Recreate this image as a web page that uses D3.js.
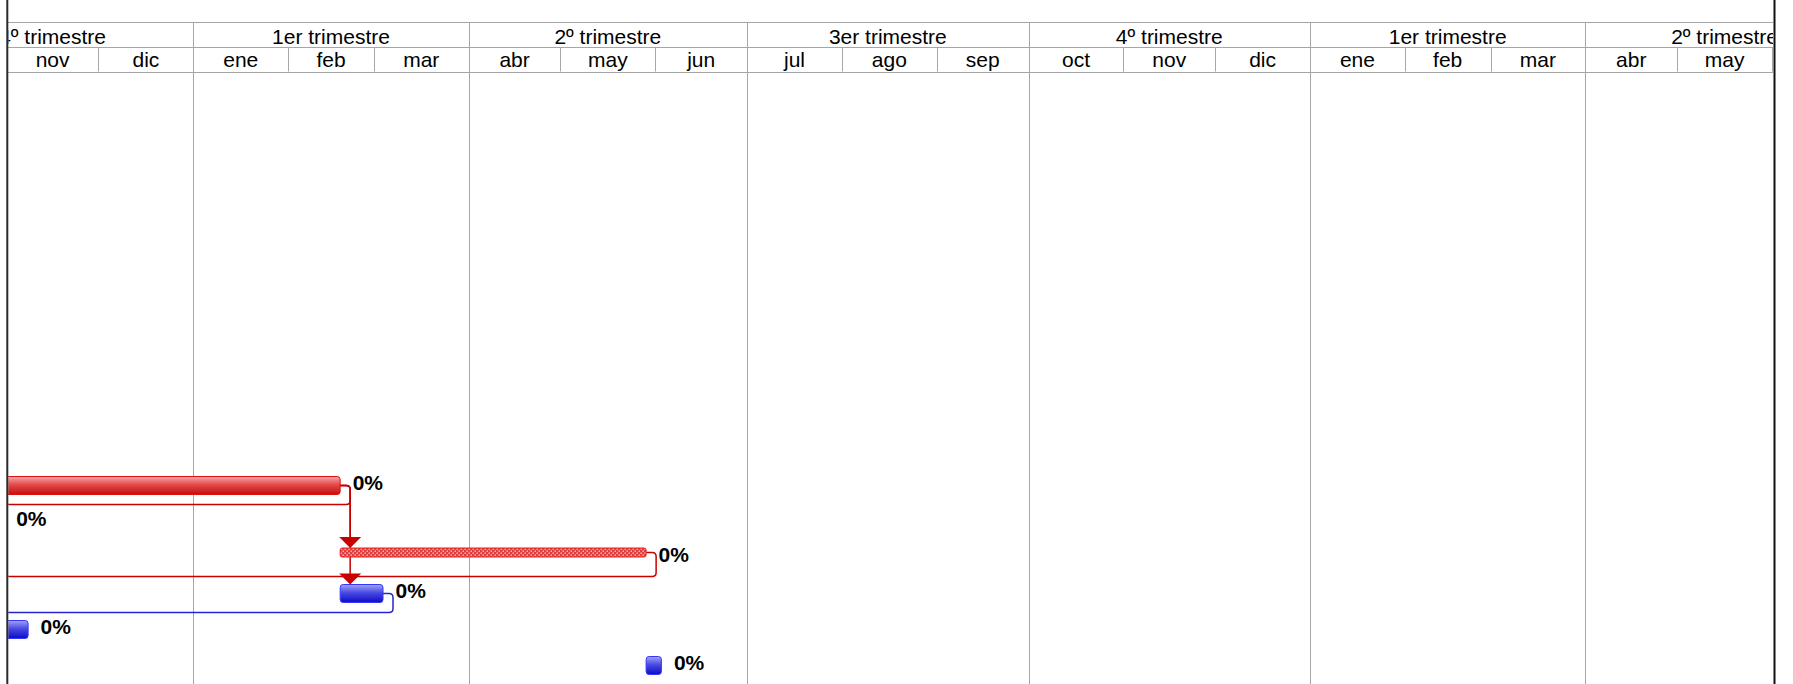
<!DOCTYPE html>
<html>
<head>
<meta charset="utf-8">
<script src="https://cdn.jsdelivr.net/npm/d3@7"></script>
<style>
  html, body { margin: 0; padding: 0; background: #fff; }
  svg { display: block; }
</style>
</head>
<body>
<div id="chart"></div>
<script>
// ---------------- DATA ----------------
const viewStart = "2012-11-01";
const viewEnd   = "2014-06-01";
const monthLabels   = ["ene","feb","mar","abr","may","jun","jul","ago","sep","oct","nov","dic"];
const quarterLabels = ["1er trimestre","2º trimestre","3er trimestre","4º trimestre"];

// tasks (only those reaching the visible window)
const taskRows   = [11, 12, 13, 14, 15, 16];
const taskStarts = ["2012-08-01","2012-09-15","2013-02-18","2013-02-18","2012-10-01","2013-05-29"];
const taskEnds   = ["2013-02-18","2012-10-31","2013-05-29","2013-03-04","2012-11-08","2013-06-03"];
const taskTypes  = ["critical","critical","criticalSplit","normal","normal","normal"];
const taskPct    = ["0%","0%","0%","0%","0%","0%"];

// finish-to-start links (by row)
const linkFrom = [11, 11, 11, 13, 14];
const linkTo   = [12, 13, 14, 15, 15];

// ---------------- LAYOUT ----------------
const W = 1793, H = 684;
const headerTop = 22, headerMid = 47, headerBottom = 71.5;
const rowH = 36;
const leftEdge = 7.3, rightEdge = 1773;

const parse = d3.timeParse("%Y-%m-%d");
const x = d3.scaleTime().domain([parse(viewStart), parse(viewEnd)]).range([6.7, 1772]);
const rowCenter = r => headerBottom + r * rowH + rowH / 2;

const tasks = taskRows.map((r, i) => ({
  row: r, start: parse(taskStarts[i]), end: parse(taskEnds[i]), type: taskTypes[i], pct: taskPct[i]
}));
const byRow = new Map(tasks.map(t => [t.row, t]));

const svg = d3.select("#chart").append("svg").attr("width", W).attr("height", H);
const defs = svg.append("defs");

function grad(id, stops) {
  const g = defs.append("linearGradient").attr("id", id)
    .attr("x1", 0).attr("y1", 0).attr("x2", 0).attr("y2", 1);
  stops.forEach(([o, c]) => g.append("stop").attr("offset", o).attr("stop-color", c));
}
grad("gRed",  [[0, "#f6a9a9"], [0.45, "#e44a4a"], [1, "#c20e0e"]]);
grad("gBlue", [[0, "#a4a4f4"], [0.45, "#4a4ae6"], [1, "#0c0cc4"]]);

const pat = defs.append("pattern").attr("id", "hatch").attr("patternUnits", "userSpaceOnUse")
  .attr("width", 4).attr("height", 4);
pat.append("rect").attr("width", 4).attr("height", 4).attr("fill", "#e23c3c");
pat.append("rect").attr("x", 0.5).attr("y", 0.5).attr("width", 1.3).attr("height", 1.3).attr("fill", "#fbe0e0");
pat.append("rect").attr("x", 2.5).attr("y", 2.5).attr("width", 1.3).attr("height", 1.3).attr("fill", "#fbe0e0");

defs.append("clipPath").attr("id", "clipBody").append("rect")
  .attr("x", leftEdge + 1).attr("y", 0).attr("width", rightEdge - leftEdge - 1).attr("height", H);

// ---------------- HEADER ----------------
const hdr = svg.append("g").attr("clip-path", "url(#clipBody)");
const gridColor = "#a6a6a6";

const quarters = d3.timeMonth.every(3).range(d3.timeMonth.offset(parse(viewStart), -3), parse(viewEnd));
const months = d3.timeMonth.range(parse(viewStart), parse(viewEnd));

// quarter labels
hdr.selectAll("text.q").data(quarters).join("text")
  .attr("class", "q")
  .attr("x", d => (x(d) + x(d3.timeMonth.offset(d, 3))) / 2)
  .attr("y", 43.5)
  .attr("text-anchor", "middle")
  .attr("font-family", "Liberation Sans, Arial, sans-serif")
  .attr("font-size", 21)
  .attr("fill", "#000")
  .text(d => quarterLabels[Math.floor(d.getMonth() / 3)]);

// month labels
hdr.selectAll("text.m").data(months).join("text")
  .attr("class", "m")
  .attr("x", d => (x(d) + x(d3.timeMonth.offset(d, 1))) / 2)
  .attr("y", 67)
  .attr("text-anchor", "middle")
  .attr("font-family", "Liberation Sans, Arial, sans-serif")
  .attr("font-size", 21)
  .attr("fill", "#000")
  .text(d => monthLabels[d.getMonth()]);

// month separators (month row)
const monthTicks = d3.timeMonth.range(parse(viewStart), d3.timeDay.offset(parse(viewEnd), 1));
hdr.selectAll("line.ms").data(monthTicks.filter(d => d.getMonth() % 3 !== 0)).join("line")
  .attr("x1", d => Math.round(x(d)) + 0.5).attr("x2", d => Math.round(x(d)) + 0.5)
  .attr("y1", headerMid).attr("y2", headerBottom)
  .attr("stroke", gridColor).attr("stroke-width", 1);

// quarter separators (full height)
hdr.selectAll("line.qs").data(monthTicks.filter(d => d.getMonth() % 3 === 0)).join("line")
  .attr("x1", d => Math.round(x(d)) + 0.5).attr("x2", d => Math.round(x(d)) + 0.5)
  .attr("y1", d => x(d) > 1770 ? headerMid : headerTop).attr("y2", d => x(d) > 1770 ? headerBottom : H)
  .attr("stroke", gridColor).attr("stroke-width", 1);

// horizontal header lines
[headerTop, headerMid, headerBottom].forEach(y => {
  svg.append("line").attr("x1", leftEdge).attr("x2", rightEdge)
    .attr("y1", Math.round(y) + 0.5).attr("y2", Math.round(y) + 0.5)
    .attr("stroke", gridColor).attr("stroke-width", 1);
});

// ---------------- LINKS ----------------
const body = svg.append("g").attr("clip-path", "url(#clipBody)");
const linkG = body.append("g");
const r = 4;
const barH = 18;

function barBox(t) {
  const c = rowCenter(t.row);
  if (t.type === "criticalSplit") return { top: c - 9.5, bottom: c - 0.5, mid: c - 5 };
  return { top: c - barH / 2, bottom: c + barH / 2, mid: c };
}

linkFrom.forEach((f, i) => {
  const p = byRow.get(f), s = byRow.get(linkTo[i]);
  const isBlue = p.type === "normal";
  const col = isBlue ? "#2424d4" : "#c80000";
  const x1 = x(p.end), y1 = barBox(p).mid;
  const vx = x1 + 10;
  const sx = x(s.start);
  let d;
  if (sx + 2 >= x1) {
    const yt = barBox(s).top - 10;
    d = `M${x1},${y1} H${vx - r} Q${vx},${y1} ${vx},${y1 + r} V${yt}`;
    const tip = barBox(s).top;
    linkG.append("path")
      .attr("d", `M${vx - 11},${tip - 11} L${vx + 11},${tip - 11} L${vx},${tip} Z`)
      .attr("fill", col);
  } else {
    const yb = headerBottom + (p.row + 1) * rowH + 1;
    const hx = sx - 10;
    const sy = barBox(s).mid;
    d = `M${x1},${y1} H${vx - r} Q${vx},${y1} ${vx},${y1 + r} V${yb - r} Q${vx},${yb} ${vx - r},${yb} H${hx + r} Q${hx},${yb} ${hx},${yb + r} V${sy} H${sx}`;
  }
  linkG.append("path").attr("d", d).attr("fill", "none")
    .attr("stroke", col).attr("stroke-width", 1.5);
});

// ---------------- BARS ----------------
const barG = body.append("g");
tasks.forEach(t => {
  const b = barBox(t);
  const x0 = x(t.start), x1 = x(t.end);
  const rect = barG.append("rect")
    .attr("x", x0).attr("y", b.top)
    .attr("width", Math.max(1, x1 - x0)).attr("height", b.bottom - b.top)
    .attr("rx", 3).attr("ry", 3)
    .attr("stroke-width", 1);
  if (t.type === "critical") rect.attr("fill", "url(#gRed)").attr("stroke", "#e01010");
  else if (t.type === "criticalSplit") rect.attr("fill", "url(#hatch)").attr("stroke", "#ee2020").attr("rx", 2).attr("ry", 2);
  else rect.attr("fill", "url(#gBlue)").attr("stroke", "#3636ff");

  barG.append("text")
    .attr("x", x1 + 12.5)
    .attr("y", rowCenter(t.row) + 4.5)
    .attr("font-family", "Liberation Sans, Arial, sans-serif")
    .attr("font-size", 21)
    .attr("font-weight", "bold")
    .attr("fill", "#000")
    .text(t.pct);
});

// ---------------- BORDERS ----------------
svg.append("line").attr("x1", leftEdge).attr("x2", leftEdge).attr("y1", 0).attr("y2", H)
  .attr("stroke", "#2a2a2a").attr("stroke-width", 2);
svg.append("line").attr("x1", 1774.5).attr("x2", 1774.5).attr("y1", 0).attr("y2", H)
  .attr("stroke", "#111").attr("stroke-width", 2);
</script>
</body>
</html>
